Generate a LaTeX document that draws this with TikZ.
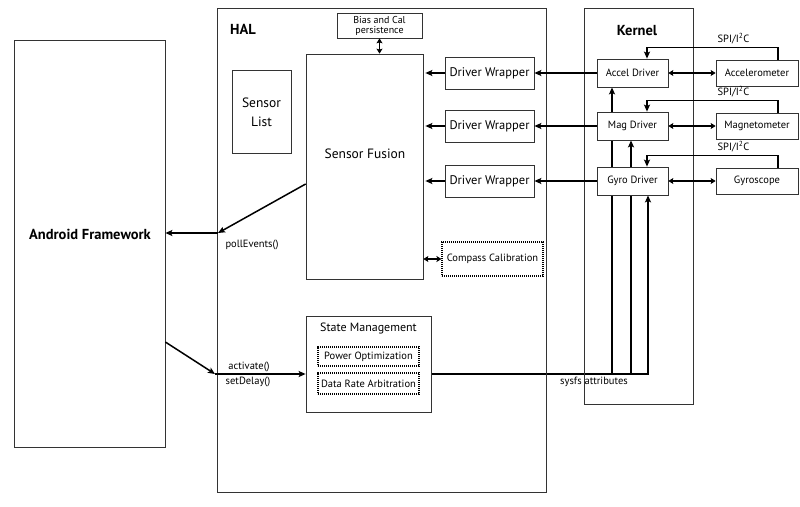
\documentclass[tikz,border=0pt]{standalone}
\usepackage{fontspec}
\setmainfont{PT Sans}
\usetikzlibrary{arrows.meta,backgrounds}
\tikzset{
	box/.style={draw=black!80, line width=0.7pt, fill=white, align=center, inner sep=0pt},
	dotbox/.style={box, draw=black, line width=1.1pt, dash pattern=on 1.1pt off 0.9pt},
	conn/.style={line width=1.5pt, -{Stealth[length=7pt,width=6pt,inset=1.5pt]}},
	biconn/.style={line width=1.5pt, {Stealth[length=5pt,width=6pt,inset=1pt]}-{Stealth[length=5pt,width=6pt,inset=1pt]}},
	title/.style={font=\bfseries\fontsize{14.5}{17}\selectfont},
	mid/.style={font=\fontsize{13.5}{19}\selectfont},
	lbl/.style={font=\fontsize{10.5}{10.5}\selectfont},
}
\begin{document}
\begin{tikzpicture}[x=1pt,y=-1pt]
	\useasboundingbox (0,0) rectangle (800,506);
	%
	\node[box, fill=none, minimum width=151, minimum height=407] (android) at (89.5,243.5) {};
	\node[title] (androidtxt) at (90,234) {Android Framework};
	\node[box, fill=none, minimum width=329, minimum height=484] (hal) at (381.5,250) {};
	\node[title] (haltxt) at (243,29) {HAL};
	\node[box, fill=none, minimum width=109, minimum height=396] (kernel) at (638.5,206) {};
	\node[title] (kerneltxt) at (637,31) {Kernel};
	%
	\node[box, font=\fontsize{10}{10}\selectfont, minimum width=85, minimum height=25] (bias) at (379.5,25.5) {Bias and Cal\\persistence};
	\node[box, minimum width=117, minimum height=225] (fusion) at (364.5,166.5) {};
	\node[mid] (fusiontxt) at (365,154) {Sensor Fusion};
	\node[box, mid, minimum width=59, minimum height=83] (list) at (261.5,112) {Sensor\\List};
	\node[dotbox, lbl, minimum width=101, minimum height=34] (compass) at (492.5,259) {Compass Calibration};
	\node[box, minimum width=125, minimum height=96] (state) at (368.5,364) {};
	\node[font=\fontsize{12}{14}\selectfont] (statetxt) at (368.5,328) {State Management};
	\node[dotbox, lbl, minimum width=101, minimum height=19] (power) at (368.5,356.5) {Power Optimization};
	\node[dotbox, lbl, minimum width=101, minimum height=21] (rate) at (368.5,383.5) {Data Rate Arbitration};
	%
	\foreach \n/\drv/\sens/\y in {1/Accel Driver/Accelerometer/73,2/Mag Driver/Magnetometer/126,3/Gyro Driver/Gyroscope/181} {
		\node[box, font=\fontsize{12.5}{14}\selectfont, minimum width=89, minimum height=32] (dw\n) at (489.5,\y) {Driver Wrapper};
		\node[box, lbl, minimum width=71, minimum height=28] (drv\n) at (632.5,\y) {\drv};
		\node[box, lbl, minimum width=82, minimum height=26] (sen\n) at (757,\y) {\sens};
		\draw[conn] (dw\n) -- ([xshift=2]fusion.east |- dw\n);
		\draw[conn] (drv\n) -- (dw\n);
		\draw[biconn] (drv\n) -- (sen\n);
		\draw[conn] ([xshift=21]sen\n.north) -- ++(0,-12) -| node[lbl, above, pos=0.17] {SPI/I\textsuperscript{2}C} ([xshift=14.5]drv\n.north);
	}
	%
	\draw[biconn] (bias.south) -- (bias.south |- fusion.north);
	\draw[biconn] (compass.west) -- (compass.west -| fusion.east);
	%
	\coordinate (poll) at (218,233);
	\draw[conn] ([yshift=-17.5]fusion.west) -- (poll);
	\draw[conn] (poll) -- (poll -| android.east);
	\node[lbl, anchor=north west] (polltxt) at (222,236) {pollEvents()};
	%
	\coordinate (act) at (215,374);
	\draw[conn] ([yshift=-98.5]android.east) -- (act);
	\draw[conn] (act) -- (act -| state.west);
	\node[lbl, above] (acttxt) at (249,375) {activate()};
	\node[lbl, below] (delaytxt) at (248,373) {setDelay()};
	%
	\coordinate (sysfs) at (648,374);
	\begin{scope}[on background layer]
		\draw[conn] (state.east |- sysfs) -| ([xshift=15.5]drv3.south);
		\draw[conn] ([xshift=-20.5]drv3.south |- sysfs) -- ([xshift=-20.5]drv1.south);
		\draw[conn] ([xshift=-1.5]drv3.south |- sysfs) -- ([xshift=-1.5]drv2.south);
	\end{scope}
	\node[lbl, below] (sysfstxt) at (594,374) {sysfs attributes};
\end{tikzpicture}
\end{document}
